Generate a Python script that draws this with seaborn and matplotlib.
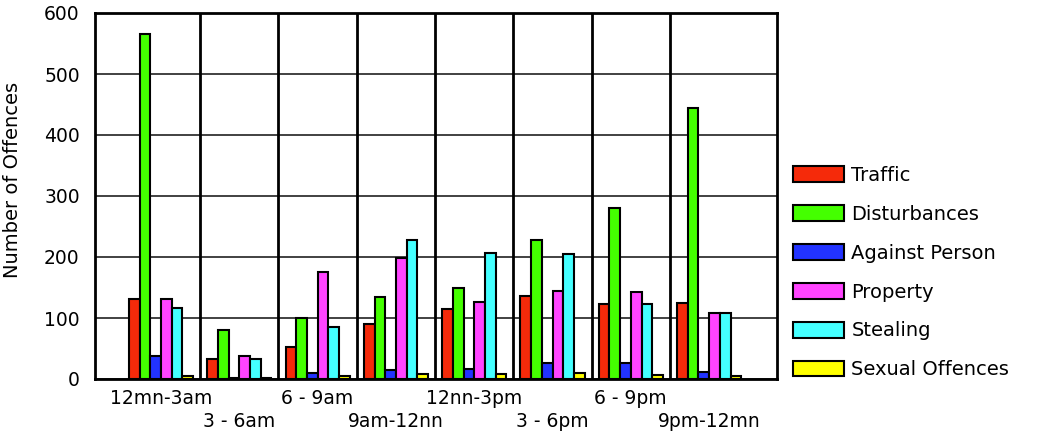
import pandas as pd
import numpy as np
import matplotlib
matplotlib.use('Agg')
import matplotlib.pyplot as plt
import seaborn as sns

# ── Data ────────────────────────────────────────────────────
periods = ['12mn-3am', '3 - 6am', '6 - 9am', '9am-12nn',
           '12nn-3pm', '3 - 6pm', '6 - 9pm', '9pm-12mn']
offence_types = ['Traffic', 'Disturbances', 'Against Person',
                 'Property', 'Stealing', 'Sexual Offences']

traffic = [131, 32, 53, 90, 114, 136, 123, 125]
disturbances = [565, 81, 100, 134, 149, 228, 280, 445]
against_person = [38, 2, 10, 14, 16, 27, 27, 12]
property_ = [131, 38, 176, 198, 127, 145, 142, 109]
stealing = [116, 33, 85, 228, 207, 205, 123, 109]
sexual = [5, 1, 5, 8, 8, 10, 6, 5]

y_ticks = [0, 100, 200, 300, 400, 500, 600]

colors = ['#F52A0A', '#44FF00', '#2233FF', '#FF44FF', '#44FFFF', '#FFFF00']

# long format table for seaborn
series = [traffic, disturbances, against_person, property_, stealing, sexual]
rows = []
for name, vals in zip(offence_types, series):
    for p, v in zip(periods, vals):
        rows.append({'Period': p, 'Offence': name, 'Count': v})
df = pd.DataFrame(rows)

# ── Plot ────────────────────────────────────────────────────
sns.set_style('white')
plt.rcParams['font.family'] = ['DejaVu Sans']
plt.rcParams['text.color'] = 'black'
plt.rcParams['xtick.color'] = 'black'
plt.rcParams['ytick.color'] = 'black'
plt.rcParams['axes.labelcolor'] = 'black'

fig = plt.figure(figsize=(10.58, 4.32), dpi=100)
ax = fig.add_axes([95 / 1058, 1 - 379 / 432, 682 / 1058, 366 / 432])

sns.barplot(data=df, x='Period', y='Count', hue='Offence',
            order=periods, hue_order=offence_types, palette=colors,
            saturation=1, width=0.82, edgecolor='black', linewidth=1.5,
            errorbar=None, ax=ax)

# grid: horizontal grey lines, vertical black separators between groups
ax.set_axisbelow(True)
ax.yaxis.grid(True, color='#333333', linewidth=1.3)
for i in range(len(periods) - 1):
    ax.axvline(i + 0.5, color='black', linewidth=2, zorder=0.6)

ax.set_xlim(-0.843, 7.867)
ax.set_ylim(0, 600)
ax.set_yticks(y_ticks)
ax.set_yticklabels([str(t) for t in y_ticks], fontsize=13.5)

# staggered x labels (every second label one row lower)
ax.set_xticks(range(len(periods)))
ax.set_xticklabels(periods, fontsize=13.5)
ax.tick_params(axis='x', direction='out', length=4, width=3, pad=3, color='#222222')
ax.tick_params(axis='y', direction='out', length=4, width=2, pad=7, color='black')
for i, tick in enumerate(ax.xaxis.get_major_ticks()):
    if i % 2 == 1:
        tick.set_pad(19.5)
ax.set_xlabel('')

for s in ax.spines.values():
    s.set_color('black')
    s.set_linewidth(2)

ax.set_ylabel('Number of Offences', fontsize=14,
              family=['Liberation Sans Narrow', 'DejaVu Sans'])
ax.yaxis.set_label_coords((22 - 95) / 682, (379 - 180) / 366)

# legend outside on the right
handles, labels = ax.get_legend_handles_labels()
ax.legend(handles, labels, loc='upper left',
          bbox_to_anchor=(793 / 1058, 1 - 166 / 432),
          bbox_transform=fig.transFigure, frameon=False, fontsize=14,
          borderaxespad=0, borderpad=0, handlelength=2.6, handleheight=0.88,
          handletextpad=0.4, labelspacing=1.02)

plt.savefig('out.png', dpi=100)
